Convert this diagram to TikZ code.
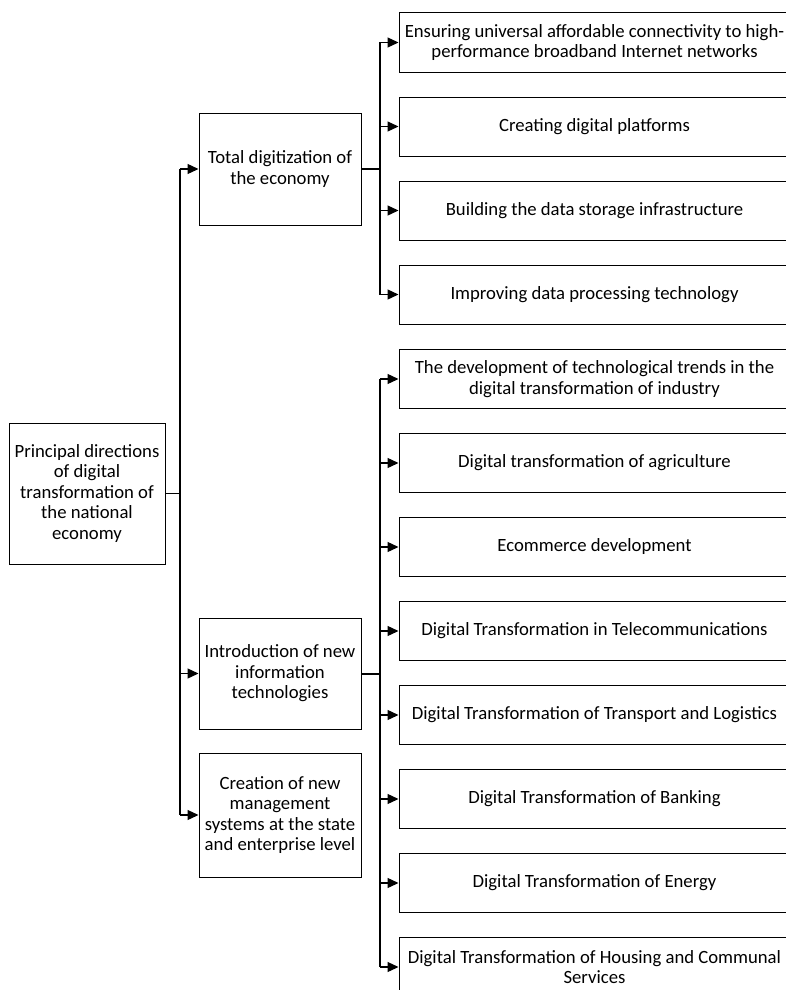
\documentclass[tikz,border=0pt]{standalone}
\usepackage{fontspec}
\setmainfont{Carlito}
\usetikzlibrary{arrows.meta}
\begin{document}
\begin{tikzpicture}[x=1pt,y=-1pt,
  box/.style={draw, line width=1pt, rectangle, align=center, inner sep=2pt,
    font=\fontsize{18.7}{20.5}\selectfont},
  midbox/.style={box, minimum width=162pt},
  listbox/.style={box, minimum width=391pt, minimum height=59pt},
  conn/.style={line width=1.3pt},
  arr/.style={line width=1.3pt, -{Triangle[length=11pt,width=10pt]}}]
\useasboundingbox (0,0) rectangle (786,990);
\clip (0,0) rectangle (786,990);

\node[box, minimum width=156pt, minimum height=141pt] (L) at (87,493.5)
  {Principal directions\\of digital\\transformation of\\the national\\economy};
\node[midbox, minimum height=112pt] (T) at (280,169) {Total digitization of\\the economy};
\node[midbox, minimum height=111pt] (I) at (280,673.5) {Introduction of new\\information\\technologies};
\node[midbox, minimum height=124pt] (C) at (280,815) {Creation of new\\management\\systems at the state\\and enterprise level};

\node[listbox] (a1) at (594.5,42.5) {Ensuring universal affordable connectivity to high-\\performance broadband Internet networks};
\node[listbox] (a2) at (594.5,126.5) {Creating digital platforms};
\node[listbox] (a3) at (594.5,210.5) {Building the data storage infrastructure};
\node[listbox] (a4) at (594.5,294.5) {Improving data processing technology};

\node[listbox] (b1) at (594.5,379) {The development of technological trends in the\\digital transformation of industry};
\node[listbox] (b2) at (594.5,463) {Digital transformation of agriculture};
\node[listbox] (b3) at (594.5,547) {Ecommerce development};
\node[listbox] (b4) at (594.5,631) {Digital Transformation in Telecommunications};
\node[listbox] (b5) at (594.5,715) {Digital Transformation of Transport and Logistics};
\node[listbox] (b6) at (594.5,799) {Digital Transformation of Banking};
\node[listbox] (b7) at (594.5,883) {Digital Transformation of Energy};
\node[listbox] (b8) at (594.5,967) {Digital Transformation of Housing and Communal\\Services};

\coordinate (jl) at (180,0);
\coordinate (jt) at (380,0);
\coordinate (jb) at (380,0);

% left trunk
\draw[conn] (L.east) -- (L.east -| jl);
\draw[conn] (T.west -| jl) -- (C.west -| jl);
\foreach \n in {T,I,C} \draw[arr] (\n.west -| jl) -- (\n.west);

% top branch
\draw[conn, line width=2pt] (T.east) -- (T.east -| jt);
\draw[conn] (a1.west -| jt) -- (a4.west -| jt);
\foreach \n in {a1,a2,a3,a4} \draw[arr] (\n.west -| jt) -- (\n.west);

% lower branch
\draw[conn, line width=2pt] (I.east) -- (I.east -| jb);
\draw[conn] (b1.west -| jb) -- (b8.west -| jb);
\foreach \n in {b1,b2,b3,b4,b5,b6,b7,b8} \draw[arr] (\n.west -| jb) -- (\n.west);
\end{tikzpicture}
\end{document}
